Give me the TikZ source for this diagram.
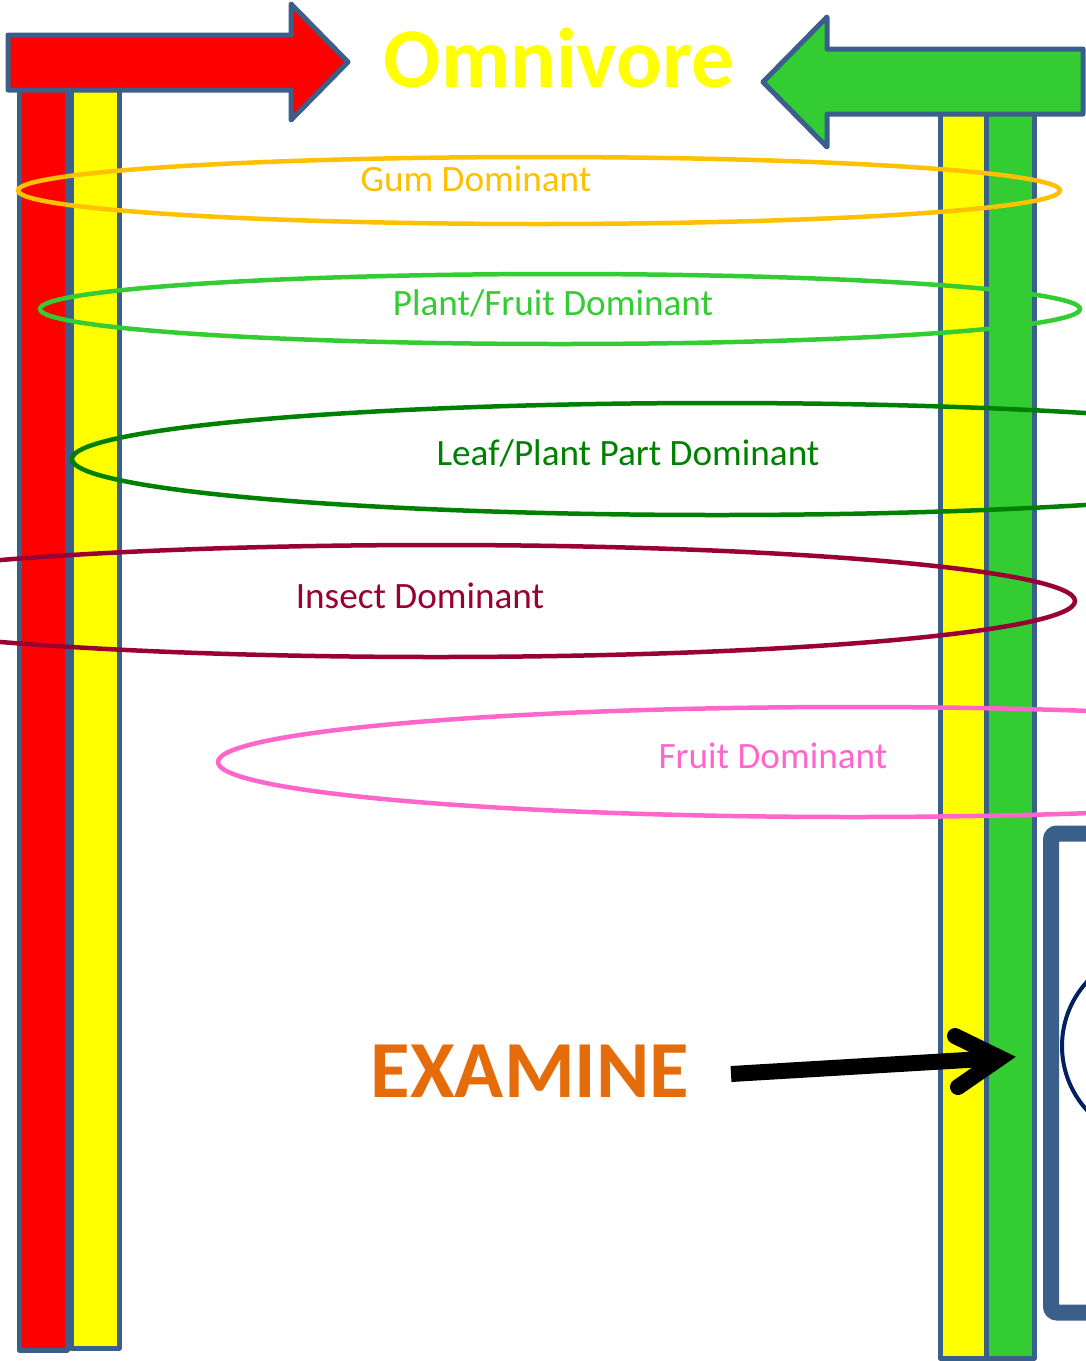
\documentclass[tikz,border=0pt]{standalone}
\usepackage{fontspec}
\setmainfont{Carlito}
\definecolor{edge}{HTML}{3A5F8B}
\definecolor{barred}{HTML}{FF0000}
\definecolor{baryellow}{HTML}{FFFF00}
\definecolor{bargreen}{HTML}{33CC33}
\definecolor{gum}{HTML}{FFC000}
\definecolor{plantfruit}{HTML}{33CC33}
\definecolor{leaf}{HTML}{008000}
\definecolor{insect}{HTML}{990033}
\definecolor{fruit}{HTML}{FF66CC}
\definecolor{examine}{HTML}{E46C0A}
\definecolor{navy}{HTML}{002060}
\begin{document}
\begin{tikzpicture}[x=1pt,y=-1pt,
  bar/.style={draw=edge,line width=5pt,line join=round},
  bigarrow/.style={draw=edge,line width=5pt,line join=round},
  ring/.style={line width=4.5pt},
  lbl/.style={font=\fontsize{37.2}{41}\selectfont,anchor=base,inner sep=0pt},
  title/.style={font=\fontsize{85}{90}\selectfont\bfseries,anchor=base,inner sep=0pt}]
\path[use as bounding box] (0,0) rectangle (1086,1361);
\clip (0,0) rectangle (1086,1361);

% vertical bars, left and right
\path[bar,fill=barred] (19,80) rectangle (67,1350);
\path[bar,fill=baryellow] (71,80) rectangle (119,1348);
\path[bar,fill=baryellow] (940,100) rectangle (986,1358);
\path[bar,fill=bargreen] (986,100) rectangle (1034,1358);

% block arrows at the top
\path[bigarrow,fill=barred] (8,35) -- (291,35) -- (291,4) -- (348,62)
  -- (291,120) -- (291,90) -- (8,90) -- cycle;
\path[bigarrow,fill=bargreen] (1083,49) -- (827,49) -- (827,17) -- (763,82)
  -- (827,147) -- (827,114) -- (1083,114) -- cycle;

\node[title,text=baryellow] (omni) at (559,87) {Omnivore};

% diet rings
\draw[ring,gum] (539,190.5) ellipse [x radius=521pt,y radius=33.5pt];
\draw[ring,plantfruit] (560,309) ellipse [x radius=520pt,y radius=35pt];
\draw[ring,leaf] (717,459) ellipse [x radius=645pt,y radius=56pt];
\draw[ring,insect] (436,601) ellipse [x radius=639pt,y radius=56pt];
\draw[ring,fruit] (853,762) ellipse [x radius=635pt,y radius=55pt];

\node[lbl,text=gum] (gumtxt) at (476,191) {Gum Dominant};
\node[lbl,text=plantfruit] (pftxt) at (553,315) {Plant/Fruit Dominant};
\node[lbl,text=leaf] (leaftxt) at (628,465) {Leaf/Plant Part Dominant};
\node[lbl,text=insect] (insecttxt) at (420,608) {Insect Dominant};
\node[lbl,text=fruit] (fruittxt) at (773,768) {Fruit Dominant};

% framed panel on the right
\draw[draw=edge,line width=16pt,rounded corners=6pt] (1051,833.5) rectangle (1130,1312.5);
\draw[navy,line width=4pt] (1157,1046) circle [radius=95pt];

% EXAMINE pointer
\node[title,font=\fontsize{81}{86}\selectfont\bfseries,text=examine] (exam) at (530,1097) {EXAMINE};
\coordinate (exstart) at (731,1074);
\coordinate (exvertex) at (1000,1058);
\coordinate (exup) at (955,1036);
\coordinate (exdown) at (958,1087);
\draw[line width=16pt,line cap=butt] (exstart) -- (exvertex);
\draw[line width=16pt,line cap=round,line join=miter] (exup) -- (exvertex) -- (exdown);
\end{tikzpicture}
\end{document}
